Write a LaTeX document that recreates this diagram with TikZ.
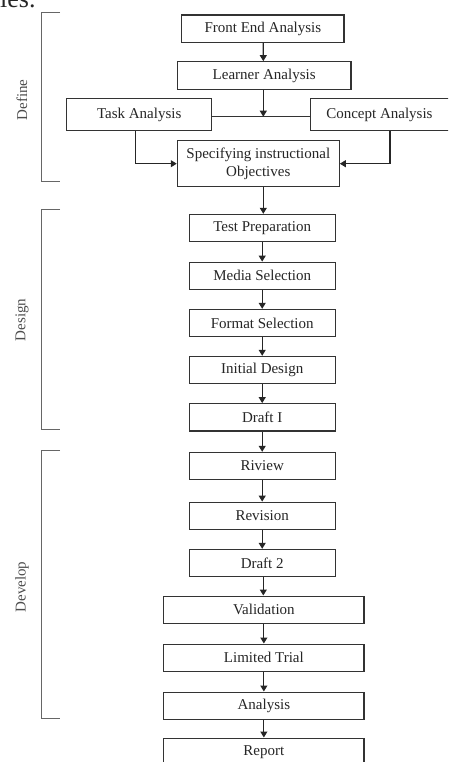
\documentclass[tikz,border=0pt]{standalone}
\usepackage{fontspec}
\setmainfont{Liberation Serif}
\usetikzlibrary{arrows.meta}
\begin{document}
\begin{tikzpicture}[x=1pt,y=-1pt,
  box/.style={draw=black!80,line width=1.1pt,fill=white,inner sep=0pt,
    minimum height=27.3pt,align=center,font=\fontsize{15}{17.5}\selectfont,text=black!85},
  arr/.style={draw=black!85,line width=1.1pt,-{Triangle[length=6pt,width=7pt]}},
  link/.style={draw=black!80,line width=1.1pt},
  bracket/.style={draw=black!60,line width=1pt},
  phase/.style={rotate=90,font=\fontsize{15}{16}\selectfont,text=black!70}]
\useasboundingbox (0,0) rectangle (448,762);
\begin{scope}
\clip (0,0) rectangle (448,762);

% tail of the preceding text line
\node[anchor=base west,inner sep=0pt,font=\fontsize{26}{28}\selectfont,text=black!85]
  (prev) at (0,8) {ies.};

% Define stage
\node[box,minimum width=162.3pt] (fea) at (262.85,28.65) {Front End Analysis};
\node[box,minimum width=173.7pt,minimum height=27.6pt] (la) at (264.15,75.5) {Learner Analysis};
\node[box,minimum width=145pt,minimum height=32.4pt] (task) at (139.2,114.5) {Task Analysis};
\node[box,minimum width=142pt,minimum height=32.4pt] (concept) at (381.7,114.5) {\hspace*{-4.6pt}Concept Analysis};
\node[box,minimum width=162pt,minimum height=46pt] (spec) at (258.3,163.7)
  {Specifying instructional\\Objectives};

% Design stage
\node[box,minimum width=145.7pt] (test) at (262.2,228) {Test Preparation};
\node[box,minimum width=145.7pt] (media) at (262.2,275.8) {Media Selection};
\node[box,minimum width=145.7pt] (format) at (262.2,323) {Format Selection};
\node[box,minimum width=145.7pt] (initial) at (262.2,370) {Initial Design};
\node[box,minimum width=145.7pt] (draft1) at (262.2,417.3) {Draft I};

% Develop stage
\node[box,minimum width=145.7pt] (review) at (262.2,466) {Riview};
\node[box,minimum width=145.7pt] (revision) at (262.2,515.8) {Revision};
\node[box,minimum width=145.7pt] (draft2) at (262.2,563) {Draft 2};
\node[box,minimum width=200.3pt] (valid) at (263.85,609.7) {Validation};
\node[box,minimum width=200.3pt] (trial) at (263.85,657.7) {Limited Trial};
\node[box,minimum width=200.3pt] (analysis) at (263.85,705.7) {Analysis};
\node[box,minimum width=200.3pt] (report) at (263.85,751.7) {Report};

% connectors
\coordinate (j) at (263.3,116.7);
\draw[arr] (fea.south -| la.center) ++(-0.9pt,0) -- (la.north -| j);
\draw[link] (task.east |- j) -- (concept.west |- j);
\draw[arr] (la.south -| j) -- (j);
\draw[arr] ([xshift=-3.5pt]task.south) |- (spec.west);
\draw[arr] ([xshift=8.3pt]concept.south) |- (spec.east);
\draw[arr] (spec.south -| j) -- (test.north -| j);
\draw[arr] (test) -- (media);
\draw[arr] (media) -- (format);
\draw[arr] (format) -- (initial);
\draw[arr] (initial) -- (draft1);
\draw[arr] (draft1) -- (review);
\draw[arr] (review) -- (revision);
\draw[arr] (revision) -- (draft2);
\draw[arr] (draft2.south -| j) -- (valid.north -| j);
\draw[arr] (valid) -- (trial);
\draw[arr] (trial) -- (analysis);
\draw[arr] (analysis) -- (report);

% stage brackets
\coordinate (defTop) at (60,12.7);   \coordinate (defBot) at (60,181.7);
\coordinate (desTop) at (60,209.3);  \coordinate (desBot) at (60,429.3);
\coordinate (devTop) at (60,450);    \coordinate (devBot) at (60,718.3);
\draw[bracket] (defTop) -- ++(-18.3,0) |- (defBot);
\draw[bracket] (desTop) -- ++(-18.3,0) |- (desBot);
\draw[bracket] (devTop) -- ++(-18.3,0) |- (devBot);
\node[phase] (define) at (22,100) {Define};
\node[phase] (design) at (22,320) {Design};
\node[phase] (develop) at (22,587) {Develop};
\end{scope}
\end{tikzpicture}
\end{document}
